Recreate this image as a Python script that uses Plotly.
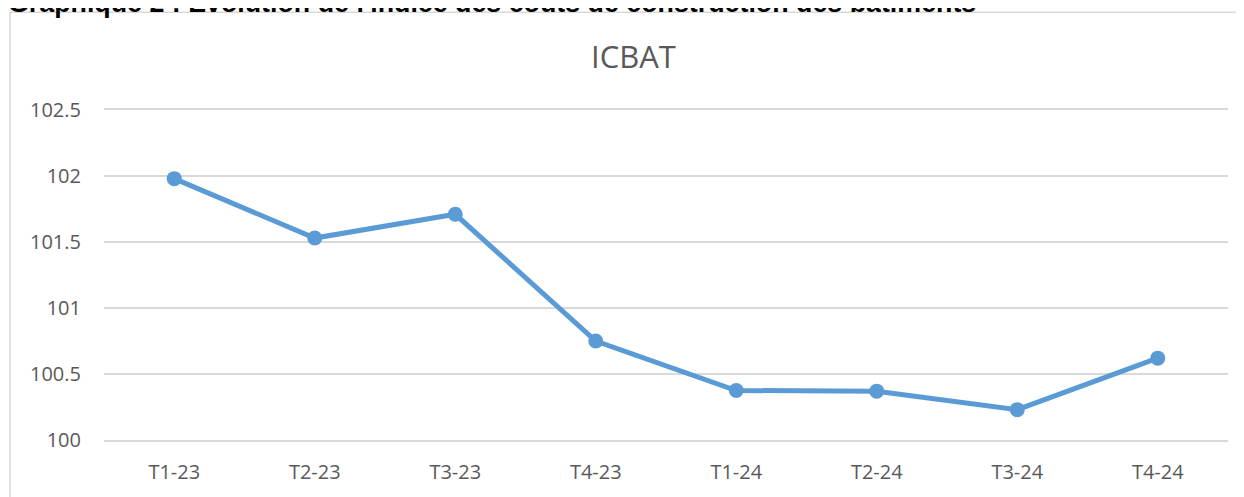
import plotly.graph_objects as go

categories = ["T1-23", "T2-23", "T3-23", "T4-23", "T1-24", "T2-24", "T3-24", "T4-24"]
icbat = [101.98, 101.53, 101.71, 100.75, 100.375, 100.37, 100.23, 100.62]
y_ticks = [100, 100.5, 101, 101.5, 102, 102.5]
y_tick_labels = ["100", "100.5", "101", "101.5", "102", "102.5"]

# page body has an 8px margin; the captured page is also slightly squeezed vertically,
# so target positions (in reference pixels) are pre-compensated.
OFF = 8
SY, BY = 0.972, 3.0


def ty(d):
    # desired on-screen y (reference px) -> layout target y
    return (d - BY) / SY


W, H = 1244 - OFF, 497 - OFF
TOP, BOT = ty(110), ty(441)
ML, MR = 104 - OFF, 16
MT = TOP - OFF
MB = H - (BOT - OFF)
PW, PH = W - ML - MR, H - MT - MB


def px_x(p):
    return (p - OFF - ML) / PW


def px_y(p):
    return (H - MB - (p - OFF)) / PH


fig = go.Figure()
fig.add_trace(go.Scatter(
    x=categories, y=icbat, mode="lines+markers",
    line=dict(color="#5B9BD5", width=5),
    marker=dict(color="#5B9BD5", size=15),
    hoverinfo="x+y", showlegend=False, cliponaxis=False,
))

grey = "#595959"
gridc = "#D9D9D9"
fig.update_layout(
    width=W, height=H,
    margin=dict(l=ML, r=MR, t=MT, b=MB),
    paper_bgcolor="white", plot_bgcolor="white",
    font=dict(family="Open Sans", color=grey, size=20),
    xaxis=dict(
        type="category", range=[-0.5, 7.5], showgrid=False, zeroline=False,
        showline=True, linecolor=gridc, linewidth=1.5, mirror=True,
        ticks="", ticklabelstandoff=13,
        tickfont=dict(family="Open Sans", size=20, color=grey),
    ),
    yaxis=dict(
        range=[100, 102.5], tickvals=y_ticks, ticktext=y_tick_labels,
        showgrid=True, gridcolor=gridc, gridwidth=1.5, zeroline=False,
        showline=False, ticks="", ticklabelstandoff=22,
        tickfont=dict(family="Open Sans", size=20, color=grey),
    ),
    shapes=[
        dict(type="rect", xref="paper", yref="paper",
             x0=px_x(10), x1=px_x(1270), y0=px_y(540), y1=px_y(ty(12)),
             line=dict(color=gridc, width=1.5), layer="below"),
    ],
    annotations=[
        dict(text="ICBAT", xref="paper", yref="paper", x=px_x(633), y=px_y(ty(56)),
             xanchor="center", yanchor="middle", showarrow=False,
             font=dict(family="Open Sans", size=31, color=grey)),
        dict(text="<b>Graphique 2 : Evolution de l'indice des coûts de construction des bâtiments</b>",
             xref="paper", yref="paper", x=px_x(6), y=px_y(17),
             xanchor="left", yanchor="bottom", showarrow=False,
             font=dict(family="Liberation Sans", size=26.8, color="black")),
    ],
)

fig.write_html("out.html")
